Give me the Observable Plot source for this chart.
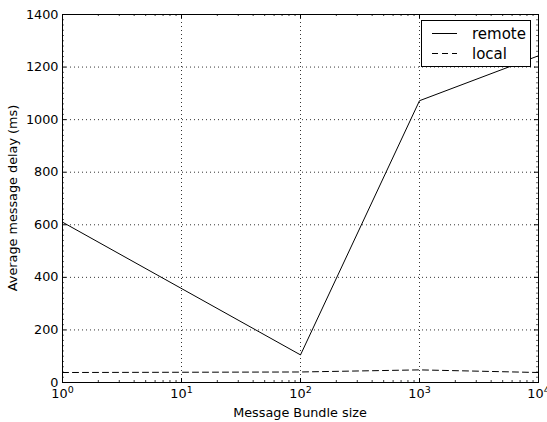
<!DOCTYPE html>
<html>
<head>
<meta charset="utf-8">
<script src="https://cdn.jsdelivr.net/npm/d3@7"></script>
<script src="https://cdn.jsdelivr.net/npm/@observablehq/plot@0.6"></script>
<style>
html,body{margin:0;padding:0;background:#fff;}
svg{font-family:"DejaVu Sans",sans-serif;}
</style>
</head>
<body>
<div id="chart"></div>
<script>
const sizes = [1, 100, 1000, 10000];
const remote = [610, 105, 1072, 1243];
const local = [38, 40, 48, 38];
const seriesNames = ["remote", "local"];
const xTicks = [1, 10, 100, 1000, 10000];
const xExponents = ["0", "1", "2", "3", "4"];
const yTicks = [0, 200, 400, 600, 800, 1000, 1200, 1400];

const xMinor = [];
for (let d = 1; d < 10000; d *= 10) for (let k = 2; k <= 9; k++) xMinor.push(d * k);
const yMinor = d3.range(0, 1401, 20).filter(v => v % 200 !== 0);

const rows = [];
sizes.forEach((s, i) => {
  rows.push({size: s, delay: remote[i], series: "remote"});
  rows.push({size: s, delay: local[i], series: "local"});
});

const W = 547, H = 422, mL = 62, mR = 9, mT = 14, mB = 40;
const ph = H - mT - mB, pw = W - mL - mR;
const FS = 12.8;

const plot = Plot.plot({
  width: W, height: H,
  marginLeft: mL, marginRight: mR, marginTop: mT, marginBottom: mB,
  style: {fontFamily: "DejaVu Sans, sans-serif", fontSize: FS + "px", background: "#fff", color: "black"},
  x: {type: "log", domain: [1, 10000]},
  y: {domain: [0, 1400]},
  marks: [
    Plot.gridX(xTicks.slice(1, -1), {stroke: "black", strokeOpacity: 1, strokeDasharray: "1,3", strokeWidth: 0.8}),
    Plot.gridY(yTicks.slice(1, -1), {stroke: "black", strokeOpacity: 1, strokeDasharray: "1,3", strokeWidth: 0.8}),
    Plot.line(rows.filter(d => d.series === "remote"), {x: "size", y: "delay", stroke: "black", strokeWidth: 1}),
    Plot.line(rows.filter(d => d.series === "local"), {x: "size", y: "delay", stroke: "black", strokeWidth: 1, strokeDasharray: "6,4"}),
    // inward major ticks
    Plot.tickX(xTicks, {x: d => d, insetTop: ph - 4, stroke: "black"}),
    Plot.tickX(xTicks, {x: d => d, insetBottom: ph - 4, stroke: "black"}),
    Plot.tickX(xMinor, {x: d => d, insetTop: ph - 2, stroke: "black", strokeWidth: 0.8}),
    Plot.tickX(xMinor, {x: d => d, insetBottom: ph - 2, stroke: "black", strokeWidth: 0.8}),
    Plot.tickY(yTicks, {y: d => d, insetRight: pw - 4, stroke: "black"}),
    Plot.tickY(yTicks, {y: d => d, insetLeft: pw - 4, stroke: "black"}),
    Plot.tickY(yMinor, {y: d => d, insetRight: pw - 2, stroke: "black", strokeWidth: 0.6}),
    Plot.tickY(yMinor, {y: d => d, insetLeft: pw - 2, stroke: "black", strokeWidth: 0.6}),
    Plot.axisX(xTicks, {tickSize: 0, tickPadding: 6, fontSize: FS, tickFormat: (d, i) => "10", label: null}),
    Plot.axisY(yTicks, {tickSize: 0, tickPadding: 4, fontSize: FS, tickFormat: d => String(d), label: null}),
    Plot.frame({stroke: "black", strokeWidth: 1})
  ]
});

const svg = d3.select(plot);
// superscripts on x tick labels
svg.selectAll('g[aria-label="x-axis tick label"] text').each(function(d, i) {
  const t = d3.select(this);
  t.text(null);
  t.append("tspan").text("10");
  t.append("tspan").attr("dy", "-0.45em").attr("font-size", "9.5px").text(xExponents[i]);
});

// axis labels
svg.append("text").attr("x", mL + pw / 2).attr("y", 417).attr("text-anchor", "middle")
  .attr("font-size", FS).attr("fill", "black").text("Message Bundle size");
svg.append("text").attr("transform", `translate(17,${mT + ph / 2}) rotate(-90)`).attr("text-anchor", "middle")
  .attr("font-size", FS).attr("fill", "black").text("Average message delay (ms)");

// legend
const lg = svg.append("g");
lg.append("rect").attr("x", 421.5).attr("y", 20.5).attr("width", 109).attr("height", 46)
  .attr("fill", "white").attr("stroke", "black").attr("stroke-width", 1);
const dashes = [null, "6,4"];
seriesNames.forEach((name, i) => {
  const y = 33.5 + i * 20;
  lg.append("line").attr("x1", 432).attr("x2", 457).attr("y1", y).attr("y2", y)
    .attr("stroke", "black").attr("stroke-width", 1).attr("stroke-dasharray", dashes[i]);
  lg.append("text").attr("x", 472).attr("y", y + 5).attr("font-size", 15)
    .attr("text-anchor", "start").attr("fill", "black").text(name);
});

document.getElementById("chart").appendChild(plot);
</script>
</body>
</html>
